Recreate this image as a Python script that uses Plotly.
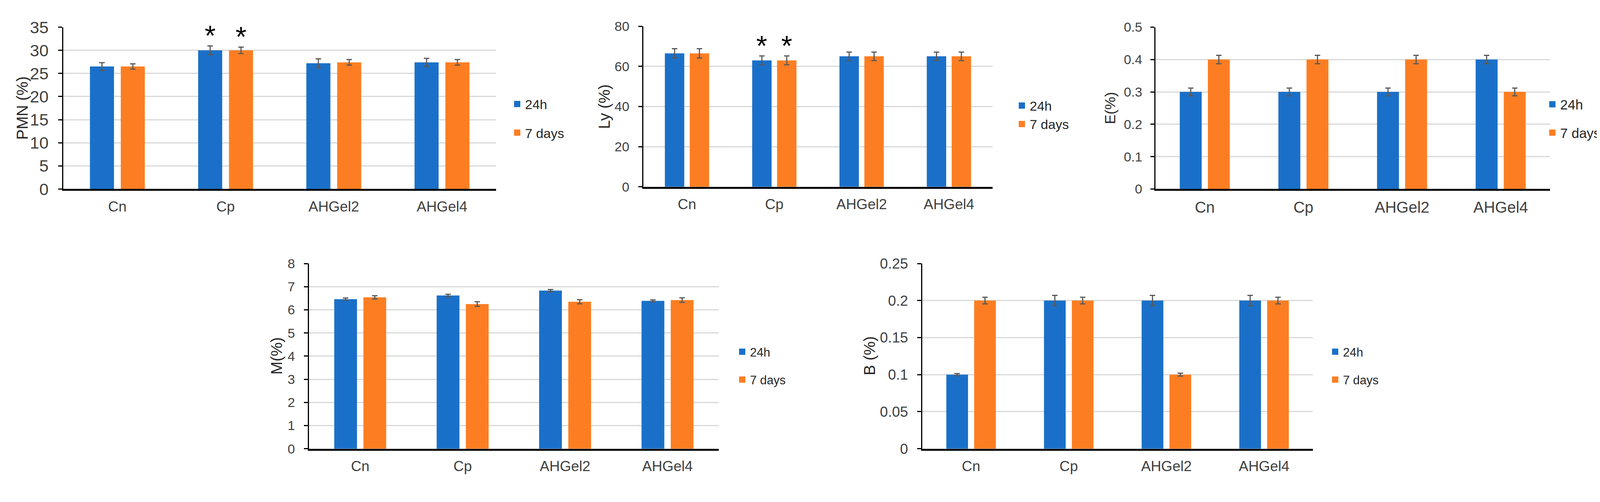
import plotly.graph_objects as go

# ---------------- data ----------------
categories = ["Cn", "Cp", "AHGel2", "AHGel4"]
series_names = ["24h", "7 days"]

pmn_24h = [26.5, 30.0, 27.2, 27.4]
pmn_7d = [26.5, 30.0, 27.4, 27.4]
pmn_err_24h = [0.83, 0.95, 0.95, 0.85]
pmn_err_7d = [0.57, 0.70, 0.60, 0.60]
pmn_sig = [False, True, False, False]

ly_24h = [66.5, 63.0, 65.0, 65.0]
ly_7d = [66.5, 63.0, 65.0, 65.0]
ly_err_24h = [2.3, 2.2, 2.1, 2.1]
ly_err_7d = [2.3, 2.2, 2.1, 2.1]
ly_sig = [False, True, False, False]

e_24h = [0.3, 0.3, 0.3, 0.4]
e_7d = [0.4, 0.4, 0.4, 0.3]
e_err_24h = [0.012, 0.012, 0.012, 0.013]
e_err_7d = [0.013, 0.013, 0.013, 0.012]
e_sig = [False, False, False, False]

m_24h = [6.46, 6.62, 6.83, 6.39]
m_7d = [6.54, 6.25, 6.35, 6.42]
m_err_24h = [0.05, 0.05, 0.05, 0.04]
m_err_7d = [0.07, 0.10, 0.09, 0.10]
m_sig = [False, False, False, False]

b_24h = [0.1, 0.2, 0.2, 0.2]
b_7d = [0.2, 0.2, 0.1, 0.2]
b_err_24h = [0.0015, 0.007, 0.007, 0.007]
b_err_7d = [0.0045, 0.0045, 0.002, 0.0045]
b_sig = [False, False, False, False]

# ---------------- styling / layout ----------------
W, H = 4248, 1284
YS = 30  # vertical compensation (px)
BLUE = "#1a70c8"
ORANGE = "#fd7e22"
ERR = "#595959"
GRID = "#d9d9d9"
TXT = "#404040"
FONT = "Liberation Sans, Arial, sans-serif"
BARGAP = 0.43
BARGROUPGAP = 0.22

panels = [
    dict(title="PMN (%)", s=(pmn_24h, pmn_7d), e=(pmn_err_24h, pmn_err_7d), sig=pmn_sig,
         ymax=35, dtick=5, xpx=(154, 1262), ypx=(69, 499),
         tickf=43, catf=37, titf=40, legf=34, tx=49, ty=284,
         lx=1296, ly=311.5, lgap=26, std=16, cstd=8),
    dict(title="Ly (%)", s=(ly_24h, ly_7d), e=(ly_err_24h, ly_err_7d), sig=ly_sig,
         ymax=80, dtick=20, xpx=(1639, 2533), ypx=(66.5, 493),
         tickf=34, catf=37, titf=40, legf=34, tx=1539, ty=280,
         lx=2588, ly=302, lgap=0, std=16, cstd=8),
    dict(title="E(%)", s=(e_24h, e_7d), e=(e_err_24h, e_err_7d), sig=e_sig,
         ymax=0.5, dtick=0.1, xpx=(2950, 3960), ypx=(69, 499),
         tickf=34, catf=40, titf=37, legf=35, tx=2835, ty=284,
         lx=3946, ly=311.5, lgap=24, std=14, cstd=8),
    dict(title="M(%)", s=(m_24h, m_7d), e=(m_err_24h, m_err_7d), sig=m_sig,
         ymax=8, dtick=1, xpx=(783, 1832), ypx=(697, 1189),
         tickf=34, catf=37, titf=40, legf=31, tx=700, ty=942,
         lx=1872, ly=968.5, lgap=28, std=16, cstd=8),
    dict(title="B (%)", s=(b_24h, b_7d), e=(b_err_24h, b_err_7d), sig=b_sig,
         ymax=0.25, dtick=0.05, xpx=(2353, 3353), ypx=(697, 1189),
         tickf=37, catf=37, titf=40, legf=31, tx=2218, ty=942,
         lx=3390, ly=968.5, lgap=28, std=16, cstd=8),
]

fig = go.Figure()
annotations = []
layout = dict(
    width=W, height=H, margin=dict(l=0, r=0, t=0, b=0),
    paper_bgcolor="white", plot_bgcolor="white",
    barmode="group", bargap=BARGAP, bargroupgap=BARGROUPGAP,
    font=dict(family=FONT, color=TXT),
    showlegend=True,
)

for i, p in enumerate(panels):
    k = "" if i == 0 else str(i + 1)
    xa, ya = "x" + k, "y" + k
    leg = "legend" + k
    for j, (name, col) in enumerate(zip(series_names, [BLUE, ORANGE])):
        fig.add_trace(go.Bar(
            x=categories, y=p["s"][j], name=name, marker=dict(color=col, line=dict(width=0)),
            error_y=dict(type="data", array=p["e"][j], visible=True, color=ERR, thickness=3, width=7),
            xaxis=xa, yaxis=ya, showlegend=False, legendgroup=f"{leg}_{j}",
        ))
    # legend entries (larger square swatches like the original)
    for j, (name, col) in enumerate(zip(series_names, [BLUE, ORANGE])):
        fig.add_trace(go.Scatter(
            x=[None], y=[None], mode="markers", name=name,
            marker=dict(symbol="square", size=16, color=col),
            xaxis=xa, yaxis=ya, legend=leg, legendgroup=f"{leg}_{j}",
            showlegend=True, hoverinfo="skip",
        ))
    x0, x1 = p["xpx"]
    y0, y1 = p["ypx"][0] - YS, p["ypx"][1] - YS
    layout["xaxis" + k] = dict(
        domain=[x0 / W, x1 / W], anchor=ya, type="category",
        categoryorder="array", categoryarray=categories,
        showline=True, linecolor="black", linewidth=5, ticks="",
        showgrid=False, tickfont=dict(size=p["catf"], color=TXT, family=FONT),
        ticklabelstandoff=p["cstd"], fixedrange=True,
    )
    layout["yaxis" + k] = dict(
        domain=[1 - y1 / H, 1 - y0 / H], anchor=xa, range=[0, p["ymax"]],
        dtick=p["dtick"], tick0=0, showline=True, linecolor="black", linewidth=3,
        ticks="outside", ticklen=10, tickwidth=3, tickcolor="black",
        showgrid=True, gridcolor=GRID, gridwidth=3, zeroline=False,
        tickfont=dict(size=p["tickf"], color=TXT, family=FONT),
        ticklabelstandoff=p["std"], fixedrange=True,
    )
    layout[leg] = dict(
        x=p["lx"] / W, y=1 - (p["ly"] - YS) / H, xanchor="left", yanchor="middle",
        bgcolor="rgba(0,0,0,0)", font=dict(size=p["legf"], color="#262626", family=FONT),
        tracegroupgap=p["lgap"], itemclick=False, itemdoubleclick=False,
    )
    annotations.append(dict(
        text=p["title"], xref="paper", yref="paper", x=p["tx"] / W, y=1 - (p["ty"] - YS) / H,
        xanchor="center", yanchor="middle", textangle=-90, showarrow=False,
        font=dict(size=p["titf"], color="#262626", family=FONT),
    ))
    # significance stars above bars
    cat_px = (x1 - x0) / len(categories)
    slot_px = cat_px * (1 - BARGAP) / 2
    for ci, flag in enumerate(p["sig"]):
        if not flag:
            continue
        for j in range(2):
            top = p["s"][j][ci] + p["e"][j][ci]
            annotations.append(dict(
                text="*", xref=xa, yref=ya, x=categories[ci], y=top,
                xshift=(j - 0.5) * slot_px, yshift=-16, yanchor="bottom",
                showarrow=False, font=dict(size=72, color="black", family=FONT),
            ))

layout["annotations"] = annotations
fig.update_layout(**layout)
fig.write_html("out.html")
